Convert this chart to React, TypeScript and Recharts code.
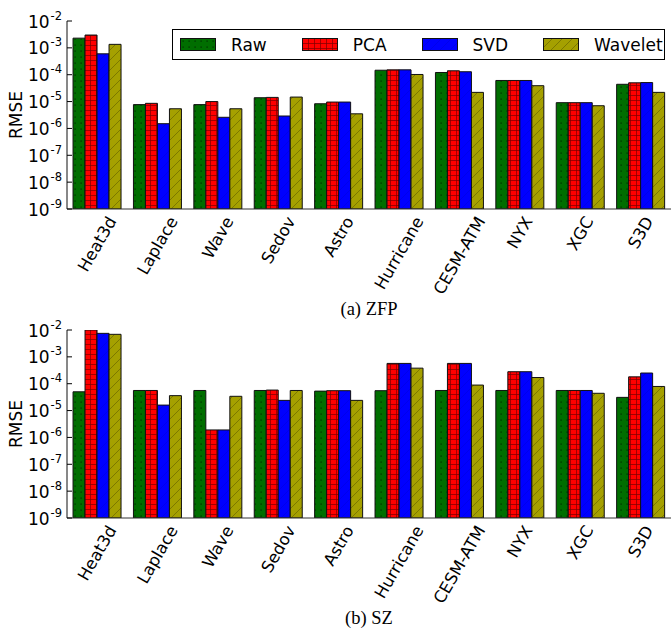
import React from 'react';
import { BarChart, Bar, XAxis, YAxis, Legend } from 'recharts';

// Datasets along the x axis
const categories = ['Heat3d', 'Laplace', 'Wave', 'Sedov', 'Astro', 'Hurricane', 'CESM-ATM', 'NYX', 'XGC', 'S3D'];

// (a) ZFP – RMSE per dataset
const zfpRaw = [2.3e-3, 7.7e-6, 7.7e-6, 1.39e-5, 8.3e-6, 1.47e-4, 1.21e-4, 6.1e-5, 9.1e-6, 4.4e-5];
const zfpPca = [3.0e-3, 8.6e-6, 1.0e-5, 1.43e-5, 9.6e-6, 1.52e-4, 1.4e-4, 6.1e-5, 9.1e-6, 5.0e-5];
const zfpSvd = [6.0e-4, 1.5e-6, 2.6e-6, 2.9e-6, 9.6e-6, 1.52e-4, 1.29e-4, 6.1e-5, 9.1e-6, 5.1e-5];
const zfpWavelet = [1.35e-3, 5.4e-6, 5.4e-6, 1.47e-5, 3.5e-6, 1.02e-4, 2.2e-5, 3.9e-5, 7.0e-6, 2.2e-5];

// (b) SZ – RMSE per dataset
const szRaw = [5.0e-5, 5.6e-5, 5.6e-5, 5.6e-5, 5.3e-5, 5.5e-5, 5.6e-5, 5.6e-5, 5.6e-5, 3.1e-5];
const szPca = [1.0e-2, 5.6e-5, 1.9e-6, 5.8e-5, 5.5e-5, 5.7e-4, 5.7e-4, 2.8e-4, 5.6e-5, 1.8e-4];
const szSvd = [7.5e-3, 1.6e-5, 1.9e-6, 2.4e-5, 5.5e-5, 5.7e-4, 5.7e-4, 2.8e-4, 5.6e-5, 2.5e-4];
const szWavelet = [6.9e-3, 3.6e-5, 3.4e-5, 5.6e-5, 2.4e-5, 3.8e-4, 8.9e-5, 1.7e-4, 4.4e-5, 7.9e-5];

// log axis: decades and their exponent labels
const decadeTicks = [1e-9, 1e-8, 1e-7, 1e-6, 1e-5, 1e-4, 1e-3, 1e-2];
const decadeLabels = ['-9', '-8', '-7', '-6', '-5', '-4', '-3', '-2'];

// minor ticks 2..9 inside every decade
const minorTicks: number[] = [];
for (let e = -9; e < -2; e++) {
  for (let m = 2; m <= 9; m++) minorTicks.push(m * Math.pow(10, e));
}

const series = [
  { key: 'raw', name: 'Raw' },
  { key: 'pca', name: 'PCA' },
  { key: 'svd', name: 'SVD' },
  { key: 'wavelet', name: 'Wavelet' },
];

const buildRows = (raw: number[], pca: number[], svd: number[], wavelet: number[]) =>
  categories.map((name, i) => ({ name, raw: raw[i], pca: pca[i], svd: svd[i], wavelet: wavelet[i] }));

const zfpRows = buildRows(zfpRaw, zfpPca, zfpSvd, zfpWavelet);
const szRows = buildRows(szRaw, szPca, szSvd, szWavelet);

const SANS = '"DejaVu Sans", Verdana, sans-serif';
const SERIF = '"Liberation Serif", "Times New Roman", serif';
const W = 671;
const H = 320;
const AXIS_W = 67;
const PLOT_TOP = 21;
const PLOT_BOTTOM = 209;
const XTICK_SIZE = 16.5;
const YTICK_SIZE = 17;

const patternDefs = (p: string) => (
  <defs>
    <pattern id={`${p}-raw`} patternUnits="userSpaceOnUse" width={6} height={6}>
      <rect width={6} height={6} fill="#006e00" />
      <rect x={2.5} y={2.5} width={1.2} height={1.2} fill="#002800" />
    </pattern>
    <pattern id={`${p}-pca`} patternUnits="userSpaceOnUse" width={6} height={5}>
      <rect width={6} height={5} fill="#ff0000" />
      <path d="M0 0.5H6M0.5 0V5" stroke="#7a0000" strokeWidth={0.7} />
    </pattern>
    <pattern id={`${p}-svd`} patternUnits="userSpaceOnUse" width={10} height={10}>
      <rect width={10} height={10} fill="#0000ff" />
      <path d="M0 10L10 0M-2 2L2 -2M8 12L12 8" stroke="#0000b0" strokeWidth={0.5} opacity={0.5} />
    </pattern>
    <pattern id={`${p}-wavelet`} patternUnits="userSpaceOnUse" width={10} height={10}>
      <rect width={10} height={10} fill="#a5a000" />
      <path d="M0 10L10 0M-2 2L2 -2M8 12L12 8" stroke="#6a6700" strokeWidth={0.7} />
    </pattern>
  </defs>
);

const measureCtx = typeof document !== 'undefined' ? document.createElement('canvas').getContext('2d') : null;
const textWidth = (s: string, font: string) => {
  if (!measureCtx) return s.length * 9;
  measureCtx.font = font;
  return measureCtx.measureText(s).width;
};

const DecadeTick = ({ y, index }: any) => (
  <g>
    <line x1={AXIS_W} x2={AXIS_W + 5} y1={y} y2={y} stroke="#000" strokeWidth={1} />
    <text x={AXIS_W - 5} y={y + 6.5} textAnchor="end" fontFamily={SANS} fontSize={YTICK_SIZE} fill="#000">
      10<tspan dx={1} dy={-8} fontSize={11.5}>{decadeLabels[index]}</tspan>
    </text>
  </g>
);

const MinorTick = ({ y }: any) => (
  <line x1={AXIS_W} x2={AXIS_W + 2.5} y1={y} y2={y} stroke="#000" strokeWidth={0.8} />
);

const TopTick = ({ x }: any) => (
  <line x1={x} x2={x} y1={PLOT_TOP} y2={PLOT_TOP + 4} stroke="#000" strokeWidth={1} />
);

// rotated category label, bounding box centred under its group
const CategoryTick = ({ x, payload }: any) => {
  const label = String(payload.value);
  const a = (60 * Math.PI) / 180;
  const w = textWidth(label, `${XTICK_SIZE}px ${SANS}`);
  const h = XTICK_SIZE * 0.76;
  const cy = PLOT_BOTTOM + 6 + (w * Math.sin(a) + h * Math.cos(a)) / 2;
  return (
    <text
      x={x}
      y={cy}
      textAnchor="middle"
      dominantBaseline="central"
      transform={`rotate(-60, ${x}, ${cy})`}
      fontFamily={SANS}
      fontSize={XTICK_SIZE}
      fill="#000"
    >
      {label}
    </text>
  );
};

const Swatch = ({ id }: { id: string }) => (
  <svg width={36} height={13} style={{ display: 'block' }}>
    {patternDefs('lg')}
    <rect x={0.5} y={0.5} width={35} height={12} fill={`url(#lg-${id})`} stroke="#111" strokeWidth={1} />
  </svg>
);

const LegendBox = () => (
  <div
    style={{
      display: 'flex',
      alignItems: 'center',
      boxSizing: 'border-box',
      height: 31,
      padding: '0 7px',
      border: '1px solid #000',
      background: '#fff',
      fontFamily: SANS,
      fontSize: YTICK_SIZE,
      color: '#000',
    }}
  >
    {series.map((s) => (
      <div key={s.key} style={{ display: 'flex', alignItems: 'center', marginRight: 35 }}>
        <Swatch id={s.key} />
        <span style={{ marginLeft: 15 }}>{s.name}</span>
      </div>
    ))}
  </div>
);

type PanelProps = { rows: any[]; caption: string; prefix: string; showLegend?: boolean };

const Panel = ({ rows, caption, prefix, showLegend }: PanelProps) => (
  <BarChart
    width={W}
    height={H}
    data={rows}
    margin={{ top: PLOT_TOP, right: 0, bottom: 0, left: 0 }}
    barCategoryGap="10%"
    barGap={0}
  >
    {patternDefs(prefix)}
    {series.map((s) => (
      <Bar
        key={s.key}
        dataKey={s.key}
        name={s.name}
        fill={`url(#${prefix}-${s.key})`}
        stroke="#111"
        strokeWidth={1}
        isAnimationActive={false}
      />
    ))}
    <XAxis
      dataKey="name"
      height={H - PLOT_BOTTOM}
      interval={0}
      tickLine={false}
      axisLine={{ stroke: '#333', strokeWidth: 1 }}
      tick={(p: any) => <CategoryTick {...p} />}
      label={{
        value: caption,
        position: 'insideBottom',
        offset: 5,
        style: { fontFamily: SERIF, fontSize: 18.5, fill: '#000' },
      }}
    />
    <XAxis
      xAxisId="top"
      orientation="top"
      dataKey="name"
      height={0}
      interval={0}
      tickLine={false}
      axisLine={{ stroke: '#333', strokeWidth: 1 }}
      tick={(p: any) => <TopTick {...p} />}
    />
    <YAxis
      width={AXIS_W}
      scale="log"
      domain={[1e-9, 1e-2]}
      allowDataOverflow
      ticks={decadeTicks}
      interval={0}
      tickLine={false}
      axisLine={{ stroke: '#111', strokeWidth: 1 }}
      tick={(p: any) => <DecadeTick {...p} />}
      label={{
        value: 'RMSE',
        angle: -90,
        position: 'insideLeft',
        offset: 15.5,
        style: { textAnchor: 'middle', fontFamily: SANS, fontSize: YTICK_SIZE, fill: '#000' },
      }}
    />
    <YAxis
      yAxisId="minor"
      width={0}
      scale="log"
      domain={[1e-9, 1e-2]}
      allowDataOverflow
      ticks={minorTicks}
      interval={0}
      tickLine={false}
      axisLine={false}
      tick={(p: any) => <MinorTick {...p} />}
    />
    {showLegend && (
      <Legend
        layout="horizontal"
        verticalAlign="middle"
        align="center"
        content={() => <LegendBox />}
        wrapperStyle={{ left: 172, top: 29, width: 493, height: 31 }}
      />
    )}
  </BarChart>
);

export default function App() {
  return (
    <div style={{ position: 'absolute', left: 0, top: 0, width: W, height: 629, background: '#fff', overflow: 'hidden' }}>
      <div style={{ position: 'absolute', left: 0, top: 0 }}>
        <Panel rows={zfpRows} caption="(a) ZFP" prefix="zfp" showLegend />
      </div>
      <div style={{ position: 'absolute', left: 0, top: 309 }}>
        <Panel rows={szRows} caption="(b) SZ" prefix="sz" />
      </div>
    </div>
  );
}
